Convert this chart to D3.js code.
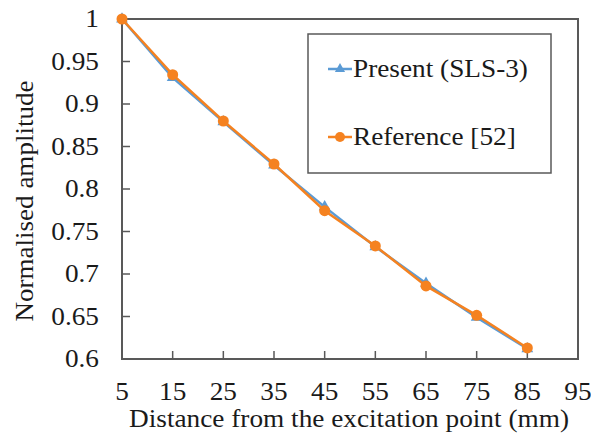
<!DOCTYPE html>
<html>
<head>
<meta charset="utf-8">
<script src="https://cdn.jsdelivr.net/npm/d3@7"></script>
<style>
  html, body { margin: 0; padding: 0; background: #fff; }
  svg { display: block; }
</style>
</head>
<body>
<svg id="chart" width="591" height="434"></svg>
<script>
// Distance from the excitation point (mm)
const distances = [5, 15, 25, 35, 45, 55, 65, 75, 85];
// Normalised amplitude, present SLS-3 model
const presentValues = [1.0, 0.931, 0.879, 0.828, 0.779, 0.732, 0.689, 0.649, 0.612];
// Normalised amplitude, reference [52]
const referenceValues = [1.0, 0.9345, 0.880, 0.8294, 0.7745, 0.733, 0.686, 0.6514, 0.613];
const xTicks = [5, 15, 25, 35, 45, 55, 65, 75, 85, 95];
const yTicks = [0.6, 0.65, 0.7, 0.75, 0.8, 0.85, 0.9, 0.95, 1];
const seriesNames = ["Present (SLS-3)", "Reference [52]"];

const blue = "#5B9BD5";
const orange = "#F58220";
const axisGrey = "#595959";
const fontFamily = "'Liberation Serif'";
const fontSize = "25.5px";
const stretch = 1.07; // glyphs are slightly wide

const svg = d3.select("#chart");
const plot = { left: 122, right: 578, top: 19, bottom: 359 };

const x = d3.scaleLinear().domain([5, 95]).range([plot.left, plot.right]);
const y = d3.scaleLinear().domain([0.6, 1]).range([plot.bottom, plot.top]);

function styleText(sel) {
  sel.style("font-family", fontFamily).style("font-size", fontSize).style("fill", "#1a1a1a");
}

// Frame
svg.append("rect")
  .attr("x", plot.left).attr("y", plot.top)
  .attr("width", plot.right - plot.left).attr("height", plot.bottom - plot.top)
  .attr("fill", "none").attr("stroke", axisGrey).attr("stroke-width", 2);

// Inward ticks
svg.append("g").selectAll("line").data(xTicks.slice(1, -1)).join("line")
  .attr("x1", d => x(d)).attr("x2", d => x(d))
  .attr("y1", plot.bottom).attr("y2", plot.bottom - 8)
  .attr("stroke", axisGrey).attr("stroke-width", 1.5);
svg.append("g").selectAll("line").data(yTicks.slice(1, -1)).join("line")
  .attr("x1", plot.left).attr("x2", plot.left + 8)
  .attr("y1", d => y(d)).attr("y2", d => y(d))
  .attr("stroke", axisGrey).attr("stroke-width", 1.5);

// Tick labels
svg.append("g").selectAll("text").data(xTicks).join("text")
  .attr("transform", d => `translate(${x(d)},400) scale(${stretch},1)`)
  .attr("text-anchor", "middle")
  .call(styleText)
  .text(d => d);
svg.append("g").selectAll("text").data(yTicks).join("text")
  .attr("transform", d => `translate(99,${y(d) + 8}) scale(${stretch},1)`)
  .attr("text-anchor", "end")
  .call(styleText)
  .text(d => d3.format("")(d));

// Axis titles
svg.append("text")
  .attr("transform", `translate(349,427) scale(${stretch},1)`)
  .attr("text-anchor", "middle")
  .call(styleText)
  .text("Distance from the excitation point (mm)");
svg.append("text")
  .attr("transform", `translate(33,201) rotate(-90) scale(1.06,1)`)
  .attr("text-anchor", "middle")
  .call(styleText)
  .text("Normalised amplitude");

// Series
const line = d3.line().x(d => x(d[0])).y(d => y(d[1]));
const presentPts = distances.map((d, i) => [d, presentValues[i]]);
const referencePts = distances.map((d, i) => [d, referenceValues[i]]);

svg.append("path").datum(presentPts)
  .attr("d", line).attr("fill", "none")
  .attr("stroke", blue).attr("stroke-width", 2.5);
svg.append("g").selectAll("path").data(presentPts).join("path")
  .attr("transform", d => `translate(${x(d[0])},${y(d[1])})`)
  .attr("d", d3.symbol(d3.symbolTriangle, 60))
  .attr("fill", blue);

svg.append("path").datum(referencePts)
  .attr("d", line).attr("fill", "none")
  .attr("stroke", orange).attr("stroke-width", 2.5);
svg.append("g").selectAll("circle").data(referencePts).join("circle")
  .attr("cx", d => x(d[0])).attr("cy", d => y(d[1]))
  .attr("r", 5.5).attr("fill", orange);

// Legend
const legend = svg.append("g");
legend.append("rect")
  .attr("x", 308).attr("y", 34).attr("width", 243).attr("height", 139)
  .attr("fill", "#fff").attr("stroke", axisGrey).attr("stroke-width", 1.5);
const entries = [
  { name: seriesNames[0], color: blue, cy: 69, marker: "tri" },
  { name: seriesNames[1], color: orange, cy: 137, marker: "circ" }
];
entries.forEach(e => {
  legend.append("line")
    .attr("x1", 328).attr("x2", 352).attr("y1", e.cy).attr("y2", e.cy)
    .attr("stroke", e.color).attr("stroke-width", 2.5);
  if (e.marker === "tri") {
    legend.append("path")
      .attr("transform", `translate(340,${e.cy})`)
      .attr("d", d3.symbol(d3.symbolTriangle, 45))
      .attr("fill", e.color);
  } else {
    legend.append("circle").attr("cx", 340).attr("cy", e.cy).attr("r", 5)
      .attr("fill", e.color);
  }
  legend.append("text")
    .attr("transform", `translate(353,${e.cy + 8}) scale(${stretch},1)`)
    .call(styleText)
    .text(e.name);
});
</script>
</body>
</html>
